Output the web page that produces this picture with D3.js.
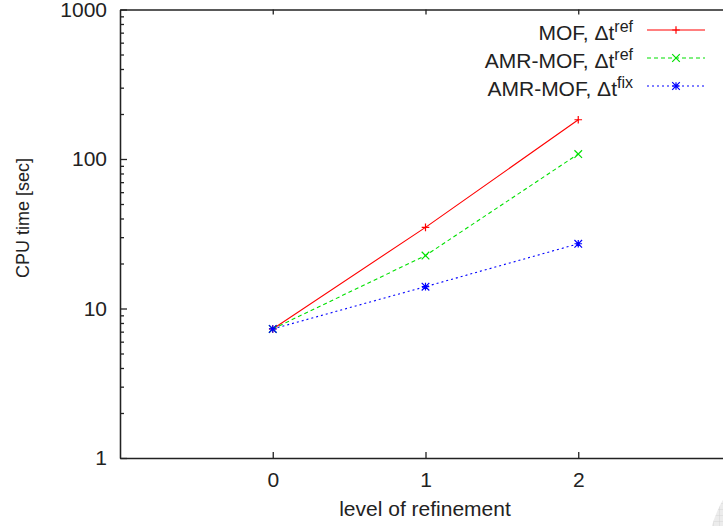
<!DOCTYPE html>
<html>
<head>
<meta charset="utf-8">
<script src="https://cdn.jsdelivr.net/npm/d3@7"></script>
<style>
  body { margin: 0; background: #fff; }
  text { font-family: "Liberation Sans", Arial, sans-serif; fill: #222; }
</style>
</head>
<body>
<svg id="plot"></svg>
<script>
// values
levels = [0, 1, 2];
mofRef = [7.3, 34.9, 183];
amrRef = [7.3, 22.6, 108];
amrFix = [7.3, 14.0, 27.1];
seriesNames = ["MOF, Δt", "AMR-MOF, Δt", "AMR-MOF, Δt"];
seriesSup = ["ref", "ref", "fix"];
yTicks = [1, 10, 100, 1000];
xTicks = [0, 1, 2];

svgWidth = 723;
svgHeight = 526;
fontSize = 21;
margin = {top: 9.5, left: 120, bottom: 458, right: 731};

const svg = d3.select("#plot")
    .attr("width", svgWidth)
    .attr("height", svgHeight);

x = d3.scaleLinear().domain([-1, 3]).range([margin.left, margin.right]);
y = d3.scaleLog().domain([1, 1000]).range([margin.bottom, margin.top]);

// faint watermark in the corner
const defs = svg.append("defs");
const pat = defs.append("pattern")
    .attr("id", "grid").attr("width", 6).attr("height", 6)
    .attr("patternUnits", "userSpaceOnUse");
pat.append("rect").attr("width", 6).attr("height", 6).attr("fill", "#ececec");
pat.append("path").attr("d", "M6 0V6M0 6H6").attr("stroke", "#d6d6d6").attr("stroke-width", 1);
svg.append("circle").attr("cx", 828).attr("cy", 560).attr("r", 121)
    .attr("fill", "url(#grid)");

// minor log ticks
minor = [];
yTicks.slice(0, -1).forEach(d => {
    for (let k = 2; k < 10; k++) minor.push(d * k);
});

function styleAxis(g) {
    g.selectAll("path, line").attr("stroke", "#222").attr("stroke-width", 1.3);
    g.selectAll("text").attr("font-size", fontSize).attr("fill", "#222")
        .attr("font-family", "Liberation Sans, Arial, sans-serif");
}

svg.append("g")
    .attr("transform", `translate(${margin.left},0)`)
    .call(d3.axisLeft(y).tickValues(minor).tickSize(-4).tickSizeOuter(0).tickFormat(""))
    .call(styleAxis);

svg.append("g")
    .attr("transform", `translate(${margin.left},0)`)
    .call(d3.axisLeft(y).tickValues(yTicks).tickSize(-7).tickSizeOuter(0)
        .tickPadding(13).tickFormat(d3.format("d")))
    .call(styleAxis);

svg.append("g")
    .attr("transform", `translate(0,${margin.bottom})`)
    .call(d3.axisBottom(x).tickValues(xTicks).tickSize(-6).tickSizeOuter(0)
        .tickPadding(14).tickFormat(d3.format("d")))
    .call(styleAxis);

svg.append("g")
    .attr("transform", `translate(0,${margin.top})`)
    .call(d3.axisTop(x).tickValues(xTicks).tickSize(-5).tickSizeOuter(0).tickFormat(""))
    .call(styleAxis);

// axis titles
svg.append("text")
    .text("level of refinement")
    .attr("x", 425).attr("y", 516)
    .attr("text-anchor", "middle")
    .attr("font-size", fontSize);

svg.append("text")
    .text("CPU time [sec]")
    .attr("transform", "translate(29,218) rotate(-90)")
    .attr("text-anchor", "middle")
    .attr("font-size", 18);

// series
series = [
    {values: mofRef, color: "#ff0000", dash: null, mark: "plus"},
    {values: amrRef, color: "#00e000", dash: "4,3", mark: "cross"},
    {values: amrFix, color: "#0000ff", dash: "2,3", mark: "star"}
];

const line = d3.line()
    .x((d, i) => x(levels[i]))
    .y(d => y(d));

function marker(g, cx, cy, type, color) {
    const s = 3.8;
    let d = "";
    if (type === "plus" || type === "star") d += `M${cx - s},${cy}H${cx + s}M${cx},${cy - s}V${cy + s}`;
    if (type === "cross" || type === "star") d += `M${cx - s},${cy - s}L${cx + s},${cy + s}M${cx - s},${cy + s}L${cx + s},${cy - s}`;
    g.append("path").attr("d", d).attr("stroke", color).attr("stroke-width", 1.2).attr("fill", "none");
}

series.forEach(sr => {
    svg.append("path")
        .datum(sr.values)
        .attr("fill", "none")
        .attr("stroke", sr.color)
        .attr("stroke-width", 1.1)
        .attr("stroke-dasharray", sr.dash)
        .attr("d", line);
    const g = svg.append("g");
    sr.values.forEach((v, i) => marker(g, x(levels[i]), y(v), sr.mark, sr.color));
});

// legend
series.forEach((sr, i) => {
    const ly = 30 + i * 28;
    const t = svg.append("text")
        .attr("x", 633).attr("y", ly + 10)
        .attr("text-anchor", "end")
        .attr("font-size", fontSize);
    t.append("tspan").text(seriesNames[i]);
    t.append("tspan").text(seriesSup[i]).attr("dy", -8).attr("font-size", 16);
    svg.append("line")
        .attr("x1", 647).attr("x2", 705).attr("y1", ly).attr("y2", ly)
        .attr("stroke", sr.color).attr("stroke-width", 1.1)
        .attr("stroke-dasharray", sr.dash);
    marker(svg, 676, ly, sr.mark, sr.color);
});
</script>
</body>
</html>
